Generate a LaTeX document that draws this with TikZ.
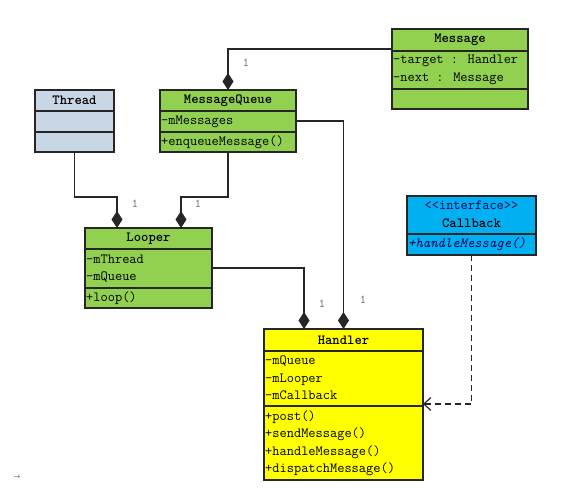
\documentclass[tikz,border=0pt]{standalone}
\usepackage{fontspec}
\newfontfamily\arrowfont{DejaVu Sans}
\usetikzlibrary{arrows.meta}

\begin{document}
\begin{tikzpicture}[x=1pt,y=-1pt]
%% Colors
\definecolor{clsGreen}{RGB}{146,208,80}
\definecolor{clsGrey}{RGB}{200,214,230}
\definecolor{clsCyan}{RGB}{0,176,240}
\definecolor{clsYellow}{RGB}{255,255,0}
%% Styles
\tikzset{
cls/.style={draw=black!85, line width=1.2pt, anchor=north west, inner sep=0pt, outer sep=0pt},
cname/.style={font=\ttfamily\bfseries\fontsize{14}{15}\selectfont, inner sep=0pt},
cmem/.style={font=\ttfamily\fontsize{14}{17.5}\selectfont, align=left, anchor=west, inner sep=0pt},
comp/.style={draw=black!85, line width=1.2pt, -{Diamond[length=17pt,width=11pt]}},
real/.style={draw=black!85, line width=1.2pt, dash pattern=on 6pt off 4pt, -{Straight Barb[length=7pt,width=13pt]}},
mult/.style={font=\ttfamily\fontsize{12}{12}\selectfont, text=black!60, inner sep=0pt}
}
\useasboundingbox (0,0) rectangle (564,501);

%% Thread
\node[cls, fill=clsGrey, minimum width=79, minimum height=62] (thread) at (35,90) {};
\path[draw=black!85, line width=1.2pt] (35,111) -- (114,111) (35,132) -- (114,132);
\node[cname] (threadT) at (74.5,100.5) {Thread};

%% MessageQueue
\node[cls, fill=clsGreen, minimum width=136, minimum height=62] (mq) at (160,90) {};
\path[draw=black!85, line width=1.2pt] (160,111) -- (296,111) (160,132) -- (296,132);
\node[cname] (mqT) at (228,100.5) {MessageQueue};
\node[cmem] (mqA) at (161,121.5) {-mMessages};
\node[cmem] (mqM) at (161,142) {+enqueueMessage()};

%% Message
\node[cls, fill=clsGreen, minimum width=136, minimum height=80] (msg) at (392,29) {};
\path[draw=black!85, line width=1.2pt] (392,51) -- (528,51) (392,89) -- (528,89);
\node[cname] (msgT) at (460,40) {Message};
\node[cmem] (msgA) at (393,70) {-target : Handler\\-next : Message};

%% Looper
\node[cls, fill=clsGreen, minimum width=127, minimum height=80] (looper) at (85,228) {};
\path[draw=black!85, line width=1.2pt] (85,249) -- (212,249) (85,288) -- (212,288);
\node[cname] (looperT) at (148.5,238.5) {Looper};
\node[cmem] (looperA) at (86,268.5) {-mThread\\-mQueue};
\node[cmem] (looperM) at (86,298) {+loop()};

%% Callback
\node[cls, fill=clsCyan, minimum width=129, minimum height=59] (cb) at (407,196) {};
\path[draw=black!85, line width=1.2pt] (407,234) -- (536,234);
\node[cname, font=\ttfamily\fontsize{14}{15}\selectfont, text=black!65!blue] (cbS) at (471.5,205.5) {<<interface>>};
\node[cname] (cbT) at (471.5,223) {Callback};
\node[cmem, font=\ttfamily\itshape\fontsize{14}{15}\selectfont, text=black!65!blue] (cbM) at (408,244.5) {+handleMessage()};

%% Handler
\node[cls, fill=clsYellow, minimum width=159, minimum height=151] (handler) at (264,329) {};
\path[draw=black!85, line width=1.2pt] (264,351) -- (423,351) (264,406) -- (423,406);
\node[cname] (handlerT) at (343.5,340) {Handler};
\node[cmem] (handlerA) at (265,378) {-mQueue\\-mLooper\\-mCallback};
\node[cmem] (handlerM) at (265,443) {+post()\\+sendMessage()\\+handleMessage()\\+dispatchMessage()};

%% Connectors
\coordinate (looperIn1) at ([xshift=32pt]looper.north west);
\coordinate (looperIn2) at ([xshift=96pt]looper.north west);
\coordinate (handlerIn1) at ([xshift=40pt]handler.north west);
\coordinate (cbEnd) at ([yshift=-75pt]handler.north east);
\path[comp] ([yshift=-20pt]msg.north west) -| (mq.north);
\path[comp] (thread.south) -- ++(0,45) -| (looperIn1);
\path[comp] (mq.south) -- ++(0,45) -| (looperIn2);
\path[comp] ([yshift=-40pt]looper.north east) -| (handlerIn1);
\path[comp] ([yshift=-31pt]mq.north east) -| (handler.north);
\path[real] (cb.south) |- (cbEnd);

%% Multiplicities
\foreach \name/\x/\y in {m1/246/63, m2/135/204, m3/198/204, m4/322/304, m5/363/300}{
\node[mult] (\name) at (\x,\y) {1};
}

%% Paragraph mark
\node[text=black!50, font=\arrowfont\fontsize{8}{8}\selectfont, inner sep=0pt] (mark) at (17,477) {→};
\end{tikzpicture}
\end{document}
